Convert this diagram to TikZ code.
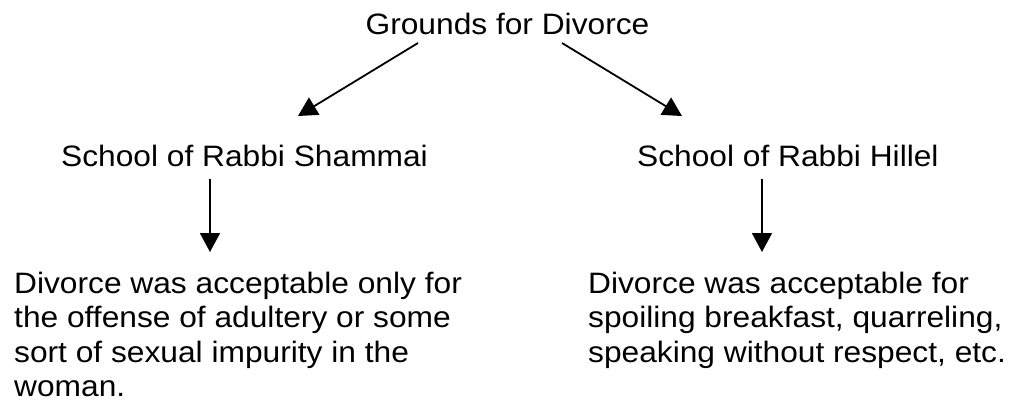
\documentclass[tikz,border=0pt]{standalone}
\usepackage{fontspec}
\setmainfont{Liberation Sans}[FakeStretch=1.075]
\usetikzlibrary{arrows.meta}
\begin{document}
\begin{tikzpicture}[x=1pt,y=1pt,
  txt/.style={inner sep=0pt, align=left, font=\fontsize{29.5}{34.5}\selectfont},
  arr/.style={line width=1.8pt, -{Triangle[length=19pt,width=20pt]}}]
\useasboundingbox (0,0) rectangle (1013,-402);
\node[txt, anchor=base] (title) at (507.5,-34) {Grounds for Divorce};
\node[txt, anchor=base west] (shammai) at (61,-166) {School of Rabbi Shammai};
\node[txt, anchor=base west] (hillel) at (637,-166) {School of Rabbi Hillel};
\node[txt, anchor=base west] (l1) at (14,-293) {Divorce was acceptable only for};
\node[txt, anchor=base west] (l2) at (14,-327.5) {the offense of adultery or some};
\node[txt, anchor=base west] (l3) at (14,-362) {sort of sexual impurity in the};
\node[txt, anchor=base west] (l4) at (14,-396.5) {woman.};
\node[txt, anchor=base west] (r1) at (588,-293) {Divorce was acceptable for};
\node[txt, anchor=base west] (r2) at (588,-327.5) {spoiling breakfast, quarreling,};
\node[txt, anchor=base west] (r3) at (588,-362) {speaking without respect, etc.};
\coordinate (ta) at (418,-43);
\coordinate (tb) at (562,-43);
\coordinate (sa) at (298,-116);
\coordinate (ha) at (682,-116);
\coordinate (sd) at (210,-179);
\coordinate (se) at (210,-252);
\coordinate (hd) at (762,-179);
\coordinate (he) at (762,-252);
\draw[arr] (ta) -- (sa);
\draw[arr] (tb) -- (ha);
\draw[arr] (sd) -- (se);
\draw[arr] (hd) -- (he);
\end{tikzpicture}
\end{document}
